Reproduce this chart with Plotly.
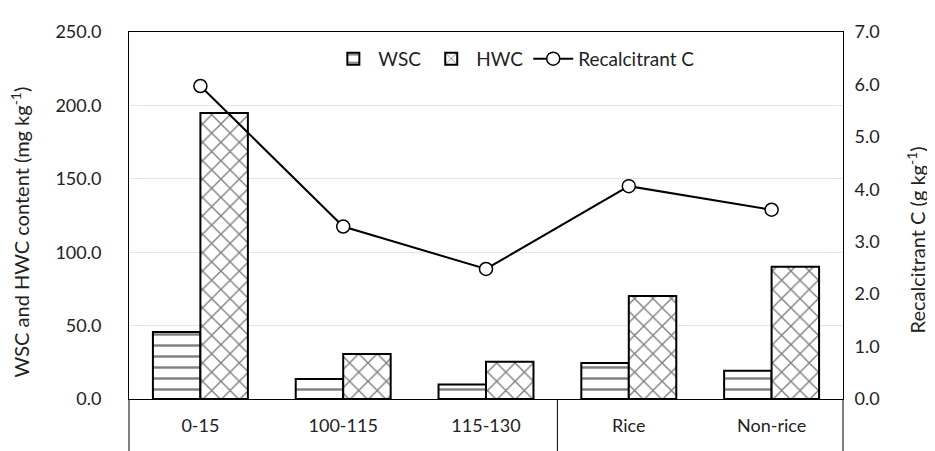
import plotly.graph_objects as go

categories = ["0-15", "100-115", "115-130", "Rice", "Non-rice"]
wsc = [45.6, 13.6, 9.8, 24.6, 19.2]
hwc = [194.8, 30.6, 25.3, 70.2, 90.1]
recalcitrant = [5.97, 3.29, 2.48, 4.06, 3.61]
left_ticks = [0, 50, 100, 150, 200, 250]
right_ticks = [0, 1, 2, 3, 4, 5, 6, 7]

FONT = "Lato"
fig = go.Figure()
fig.add_trace(go.Bar(
    x=categories, y=wsc, name="WSC",
    marker=dict(color="white", line=dict(color="black", width=2),
                pattern=dict(shape="-", fgcolor="black", bgcolor="white", size=11, solidity=0.22)),
))
fig.add_trace(go.Bar(
    x=categories, y=hwc, name="HWC",
    marker=dict(color="white", line=dict(color="black", width=2),
                pattern=dict(shape="x", fgcolor="black", bgcolor="white", size=13, solidity=0.2)),
))
fig.add_trace(go.Scatter(
    x=categories, y=recalcitrant, name="Recalcitrant C", yaxis="y2",
    mode="lines+markers",
    line=dict(color="black", width=2),
    marker=dict(symbol="circle", size=13, color="white", line=dict(color="black", width=1.5)),
))

h_plot = 451 - 19 - 60
fig.update_layout(
    width=935, height=451,
    margin=dict(l=121, r=100, t=19, b=60),
    paper_bgcolor="white", plot_bgcolor="white",
    font=dict(family=FONT, size=18, color="#222"),
    barmode="group", bargap=0.335, bargroupgap=0,
    showlegend=True,
    legend=dict(orientation="h", x=0.539, xanchor="center", y=0.927, yanchor="middle",
                bgcolor="rgba(0,0,0,0)", font=dict(size=19), traceorder="normal",
                itemwidth=40),
    xaxis=dict(showline=True, linecolor="black", linewidth=1, mirror=True,
               ticks="", ticklabelstandoff=10, showgrid=False,
               tickfont=dict(size=18)),
    yaxis=dict(range=[0, 250], tickvals=left_ticks, tickformat=".1f",
               showgrid=True, gridcolor="#dbe5f3", gridwidth=1,
               showline=True, linecolor="black", linewidth=1,
               ticks="", ticklabelstandoff=23, zeroline=False,
               tickfont=dict(size=18)),
    yaxis2=dict(range=[0, 7], tickvals=right_ticks, tickformat=".1f",
                overlaying="y", side="right", showgrid=False,
                showline=True, linecolor="black", linewidth=1,
                ticks="", ticklabelstandoff=7, zeroline=False,
                tickfont=dict(size=18)),
)

ext = -60 / h_plot
fig.add_shape(type="line", xref="paper", yref="paper", x0=0, x1=0, y0=0, y1=ext,
              line=dict(color="black", width=1))
fig.add_shape(type="line", xref="paper", yref="paper", x0=1, x1=1, y0=0, y1=ext,
              line=dict(color="black", width=1))
fig.add_shape(type="line", xref="x", yref="paper", x0=2.5, x1=2.5, y0=0, y1=ext,
              line=dict(color="black", width=1))

fig.add_annotation(text="WSC and HWC content (mg kg<sup>-1</sup>)", textangle=-90,
                   xref="paper", yref="paper", x=(12 - 121) / 714, y=0.454,
                   showarrow=False, font=dict(size=20), xanchor="center", yanchor="middle")
fig.add_annotation(text="Recalcitrant C (g kg<sup>-1</sup>)", textangle=-90,
                   xref="paper", yref="paper", x=(908 - 121) / 714, y=0.432,
                   showarrow=False, font=dict(size=20), xanchor="center", yanchor="middle")

fig.write_html("out.html")
